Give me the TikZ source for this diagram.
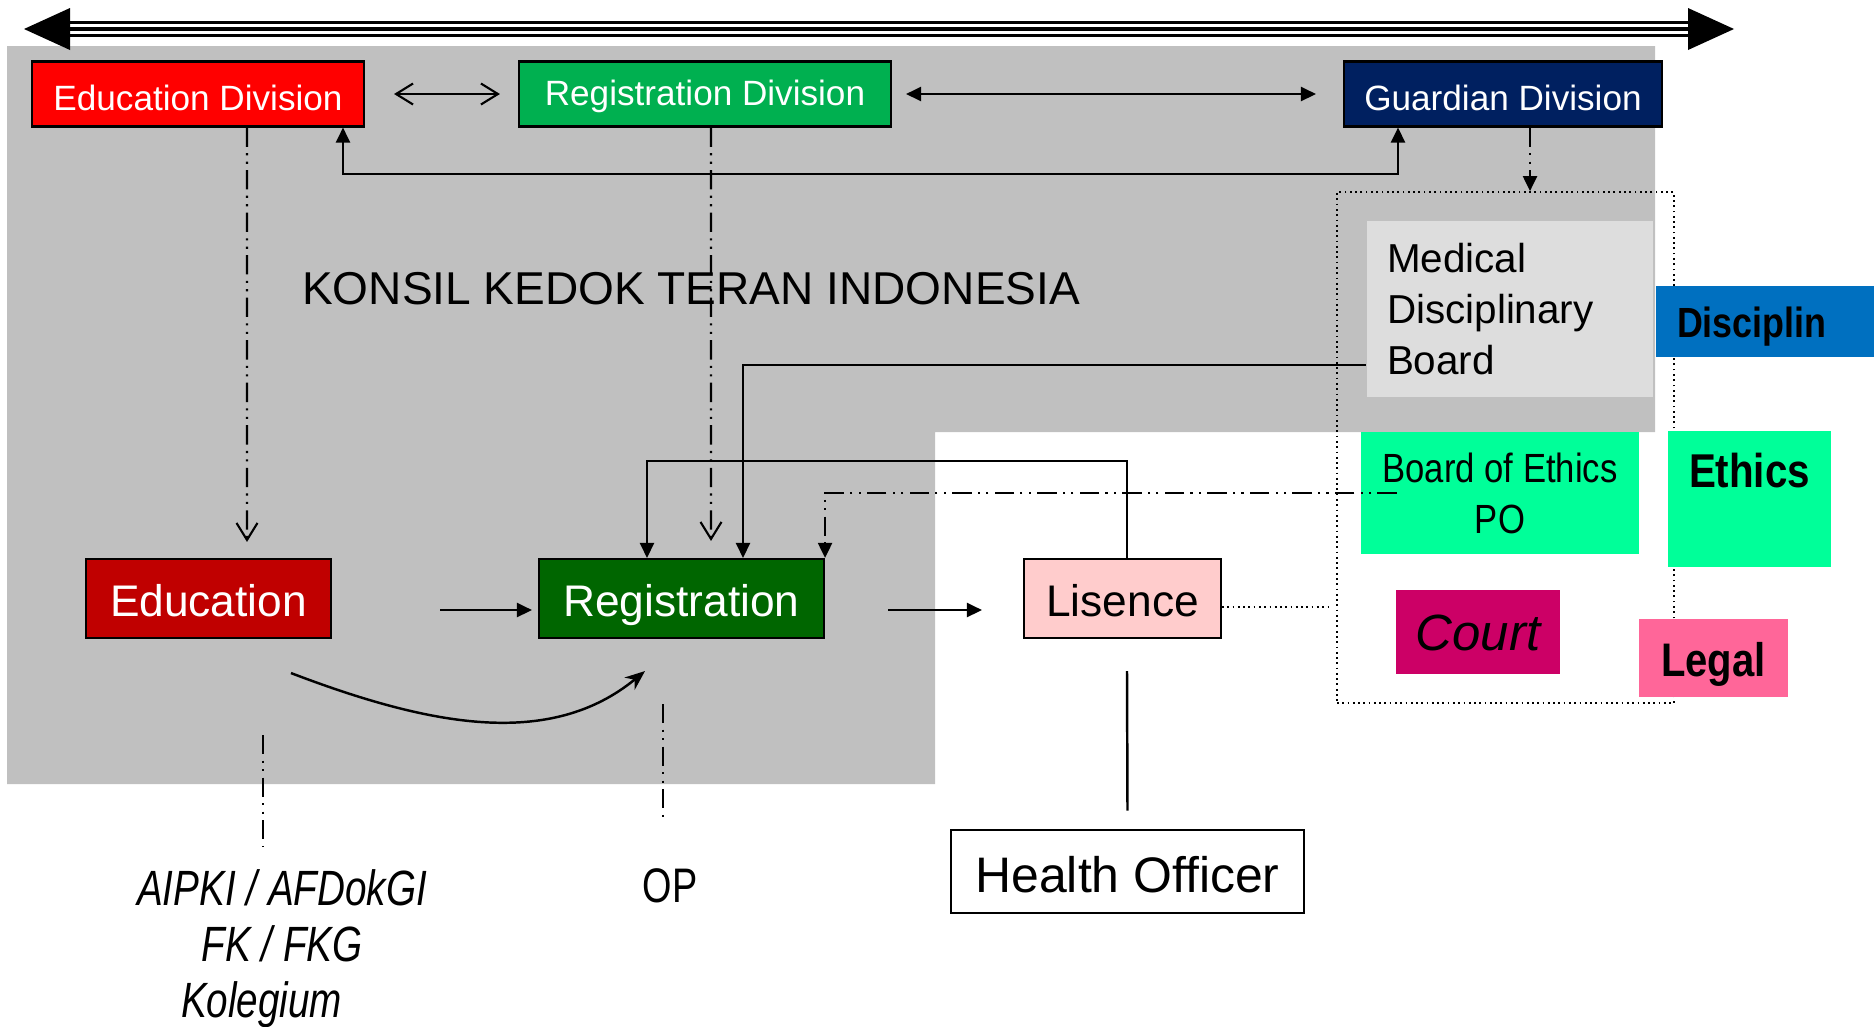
\documentclass[tikz,border=0pt]{standalone}
\usepackage{fontspec}
\setmainfont{Liberation Sans}
\newfontfamily\narrowfont[FakeStretch=0.85]{Liberation Sans}
\newfontfamily\slimfont[FakeStretch=0.78]{Liberation Sans}
\usetikzlibrary{arrows.meta}
\definecolor{kkigrey}{HTML}{C0C0C0}
\definecolor{mdbgrey}{HTML}{DDDDDD}
\definecolor{edudivred}{HTML}{FF0000}
\definecolor{regdivgreen}{HTML}{00B050}
\definecolor{guardnavy}{HTML}{002060}
\definecolor{edured}{HTML}{C00000}
\definecolor{reggreen}{HTML}{006600}
\definecolor{lispink}{HTML}{FFCCCC}
\definecolor{ethicsgreen}{HTML}{00FF99}
\definecolor{discblue}{HTML}{0070C0}
\definecolor{courtmagenta}{HTML}{CC0066}
\definecolor{legalpink}{HTML}{FF6699}
\begin{document}
\begin{tikzpicture}[x=0.1mm, y=-0.1mm, line width=0.7pt,
    >={Triangle[length=1.5mm,width=1.4mm]},
    openvee/.tip={Straight Barb[length=1.7mm,width=2.1mm]},
    capmid/.style={text height=#1, text depth=0pt},
    box/.style={draw, line width=0.6pt, inner sep=0pt},
    division/.style={box, text=white, minimum height=6.5mm, capmid=9.2pt, font=\fontsize{10}{12}\selectfont},
    stage/.style={box, minimum height=7.9mm, capmid=10.4pt, font=\fontsize{12.6}{15}\selectfont},
    patch/.style={inner sep=0pt},
    dashdotline/.style={line width=0.6pt, dash pattern=on 5.5pt off 1.8pt on 0.6pt off 1.8pt on 0.6pt off 1.8pt}]
    \useasboundingbox (0,0) rectangle (1874,1026);
    \fill[kkigrey] (7,46) -- (1655,46) -- (1655,432) -- (935,432) -- (935,784) -- (7,784) -- cycle;

    \coordinate (past) at (24,29);
    \coordinate (future) at (1734,29);
    \draw[line width=4.3pt] ([xshift=4.6mm]past) -- ([xshift=-4.6mm]future);
    \draw[white, line width=2.8pt] ([xshift=4.6mm]past) -- ([xshift=-4.6mm]future);
    \draw[line width=1.1pt] ([xshift=4.6mm]past) -- ([xshift=-4.6mm]future);
    \fill (past) -- ++(46,-21) -- ++(0,42) -- cycle;
    \fill (future) -- ++(-46,-21) -- ++(0,42) -- cycle;

    \node[draw, densely dotted, line width=0.5pt, inner sep=0pt, minimum width=33.7mm, minimum height=51.1mm] (mdbgroup) at (1505.5,447.5) {};

    \node[division, fill=edudivred, minimum width=33.2mm] (edudiv) at (198,94) {Education Division};
    \node[division, fill=regdivgreen, minimum width=37.2mm, capmid=6.6pt] (regdiv) at (705,94) {Registration Division};
    \node[division, fill=guardnavy, minimum width=31.8mm] (guard) at (1503,94) {Guardian Division};
    \node[anchor=base west, inner sep=0pt, font=\fontsize{13.1}{15}\selectfont] (kki) at (301,304) {KONSIL KEDOK TERAN INDONESIA};

    \node[patch, fill=mdbgrey, minimum width=28.6mm, minimum height=17.6mm, text width=24.6mm, align=left, font=\fontsize{11.5}{14.5}\selectfont] (mdb) at (1510,309) {Medical\\Disciplinary\\Board};
    \node[patch, fill=discblue, minimum width=22.4mm, minimum height=7.1mm, text width=18.2mm, align=left, capmid=9.2pt, font=\narrowfont\bfseries\fontsize{12}{14}\selectfont] (disc) at (1768,321.5) {Disciplin};
    \node[patch, fill=ethicsgreen, minimum width=27.8mm, minimum height=12.2mm, align=center, font=\narrowfont\fontsize{11.6}{14.5}\selectfont] (boe) at (1500,493) {Board of Ethics\\PO};
    \node[patch, fill=ethicsgreen, minimum width=16.3mm, text height=5.6mm, text depth=8mm, font=\narrowfont\bfseries\fontsize{13.5}{16}\selectfont] (ethics) at (1749.5,499) {Ethics};
    \node[patch, fill=courtmagenta, minimum width=16.4mm, minimum height=8.4mm, capmid=10.6pt, font=\itshape\fontsize{14.5}{17}\selectfont] (court) at (1478,632) {Court};
    \node[patch, fill=legalpink, minimum width=14.9mm, minimum height=7.8mm, capmid=10.8pt, font=\narrowfont\bfseries\fontsize{13.4}{16}\selectfont] (legal) at (1713.5,658) {Legal};

    \node[stage, fill=edured, text=white, minimum width=24.5mm] (edu) at (208.5,598.5) {Education};
    \node[stage, fill=reggreen, text=white, minimum width=28.5mm] (reg) at (681.5,598.5) {Registration};
    \node[stage, fill=lispink, minimum width=19.7mm] (lis) at (1122.5,598.5) {Lisence};
    \node[box, line width=0.8pt, fill=white, minimum width=35.3mm, minimum height=8.3mm, capmid=11.8pt, font=\fontsize{14.2}{16}\selectfont] (ho) at (1127.5,871.5) {Health Officer};
    \node[align=center, font=\slimfont\itshape\fontsize{14.1}{15.9}\selectfont] (aipki) at (282,949) {AIPKI / AFDokGI\\FK / FKG\\Kolegium\hspace*{11.6pt}};
    \node[font=\slimfont\fontsize{13.8}{16}\selectfont] (op) at (670,886) {OP};

    \draw[openvee-openvee, line width=0.6pt, shorten <=2.9mm, shorten >=1.8mm] (edudiv) -- (regdiv);
    \draw[<->, shorten <=1.4mm, shorten >=2.7mm] (regdiv) -- (guard);
    \draw[<->] ([xshift=14.5mm]edudiv.south) -- ++(0,46.5) -| ([xshift=-10.5mm]guard.south);
    \draw[dashdotline, -openvee] ([xshift=4.9mm]edudiv.south) -- ([xshift=3.85mm,yshift=1.6mm]edu.north);
    \draw[dashdotline, -openvee] ([xshift=0.6mm]regdiv.south) -- ([xshift=2.95mm,yshift=1.7mm]reg.north);
    \draw[dashdotline, ->] ([xshift=2.7mm]guard.south) -- ([xshift=2.45mm]mdbgroup.north);
    \draw[->] ([yshift=-5.6mm]mdb.west) -| ([xshift=6.15mm]reg.north);
    \draw[->] ([xshift=0.45mm]lis.north) -- ++(0,-97) -| ([xshift=-3.45mm]reg.north);
    \draw[dashdotline, ->] ([xshift=3.7mm]boe.west) -| (reg.north east);
    \draw[->, shorten <=10.8mm, shorten >=0.6mm] ([yshift=-1.15mm]edu.east) -- ([yshift=-1.15mm]reg.west);
    \draw[->, shorten <=6.3mm, shorten >=4.1mm] ([yshift=-1.15mm]reg.east) -- ([yshift=-1.15mm]lis.west);
    \draw[-{Stealth[length=2mm,width=1.6mm]}] ([xshift=8.25mm,yshift=-3.4mm]edu.south) .. controls +(139,53) and +(-95,78) .. ([xshift=-3.65mm,yshift=-3.2mm]reg.south);
    \draw[densely dotted, line width=0.5pt] ([yshift=-0.85mm]lis.east) -- ++(110,0);
    \draw ([xshift=0.45mm,yshift=-3.2mm]lis.south) -- ([yshift=1.8mm]ho.north);
    \draw[dashdotline] ([xshift=5.45mm,yshift=-9.6mm]edu.south) -- ++(0,112);
    \draw[dashdotline] ([xshift=-1.85mm,yshift=-6.5mm]reg.south) -- ++(0,115);
\end{tikzpicture}
\end{document}
